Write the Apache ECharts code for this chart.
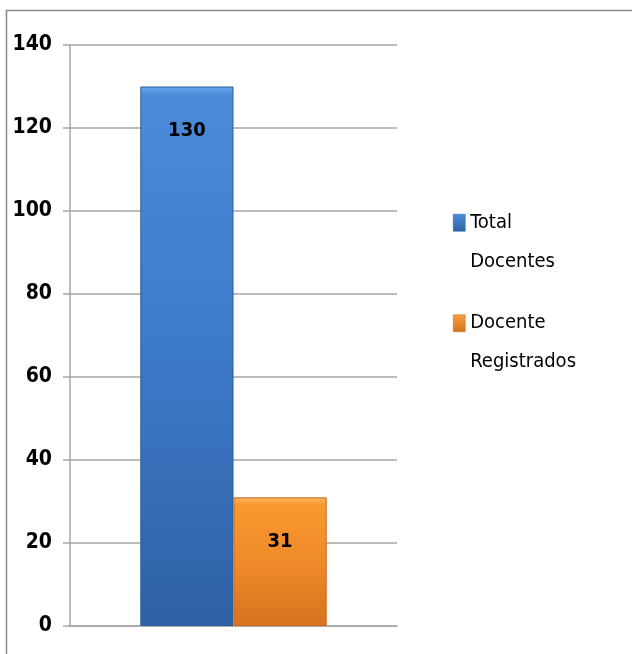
<!DOCTYPE html>
<html><head><meta charset="utf-8">
<script src="https://cdn.jsdelivr.net/npm/echarts@6/dist/echarts.min.js"></script>
<style>html,body{margin:0;padding:0;background:#fff}#c{width:632px;height:654px}</style>
</head><body><div id="c"></div>
<script>
var categories = [''];
var seriesNames = ['Total Docentes', 'Docente Registrados'];
var totalDocentes = [130];
var docenteRegistrados = [31];
var yTicks = [0, 20, 40, 60, 80, 100, 120, 140];

var FONT = "'DejaVu Sans Condensed', 'Liberation Sans Narrow', sans-serif";
function grad(stops){return {type:'linear',x:0,y:0,x2:0,y2:1,colorStops:stops};}
var blue = grad([{offset:0,color:'#6aa5ea'},{offset:0.016,color:'#4b8bd9'},{offset:0.5,color:'#3d79c9'},{offset:1,color:'#2f61a3'}]);
var orange = grad([{offset:0,color:'#fdb661'},{offset:0.06,color:'#f8982f'},{offset:0.5,color:'#f08a2a'},{offset:1,color:'#d7721f'}]);
var iconPath = 'path://M0,0 M0,11h12v17h-12z M0,78';
function iconGrad(top, bot){return {type:'linear',x:0,y:0.14,x2:0,y2:0.36,colorStops:[{offset:0,color:top},{offset:1,color:bot}]};}

var chart = echarts.init(document.getElementById('c'));
chart.setOption({
  animation:false,
  graphic:[{type:'rect',z:-10,shape:{x:6.5,y:10.5,width:700,height:700},style:{fill:'none',stroke:'#8a8a8a',lineWidth:1.5}}],
  grid:{left:70,right:235,top:45,bottom:28},
  legend:{
    orient:'vertical',left:448,top:198,itemGap:22,itemWidth:12,itemHeight:78,
    data:[{name:seriesNames[0],icon:iconPath,itemStyle:{color:iconGrad('#4e8fdc','#2f61a3'),borderColor:'#2d5c98',borderWidth:0.5}},
          {name:seriesNames[1],icon:iconPath,itemStyle:{color:iconGrad('#f9a040','#d7721f'),borderColor:'#c96a1c',borderWidth:0.5}}],
    formatter:function(n){return n.replace(' ','\n');},
    textStyle:{fontFamily:FONT,fontSize:20,lineHeight:39,color:'#000'}
  },
  xAxis:{type:'category',data:categories,axisTick:{show:false},axisLabel:{show:false},
    axisLine:{lineStyle:{color:'#a6a6a6',width:1.5}}},
  yAxis:{type:'value',min:yTicks[0],max:yTicks[yTicks.length-1],interval:20,
    axisLine:{show:true,lineStyle:{color:'#a6a6a6',width:1.5}},
    axisTick:{show:true,length:7,lineStyle:{color:'#a6a6a6',width:1.5}},
    splitLine:{lineStyle:{color:'#a6a6a6',width:1.5}},
    axisLabel:{margin:18,fontFamily:FONT,fontSize:21,fontWeight:'bold',color:'#000'}},
  series:[
    {name:seriesNames[0],type:'bar',data:totalDocentes,barGap:'0%',barCategoryGap:'43%',
     itemStyle:{color:blue,borderColor:'#2d5c98',borderWidth:1},
     label:{show:true,position:'insideTop',distance:34,fontFamily:FONT,fontSize:20,fontWeight:'bold',color:'#000'}},
    {name:seriesNames[1],type:'bar',data:docenteRegistrados,barGap:'0%',barCategoryGap:'43%',
     itemStyle:{color:orange,borderColor:'#c96a1c',borderWidth:1},
     label:{show:true,position:'insideTop',distance:34,fontFamily:FONT,fontSize:20,fontWeight:'bold',color:'#000'}}
  ]
});
</script></body></html>
